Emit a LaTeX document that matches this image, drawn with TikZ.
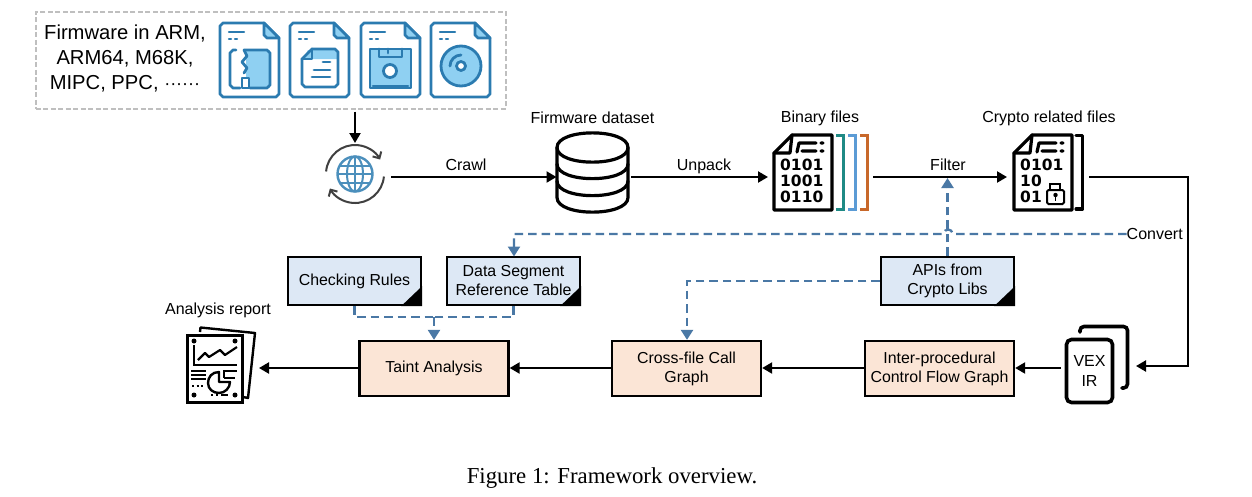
\documentclass[tikz,border=0pt]{standalone}
\usepackage{fontspec}
\setmainfont{Liberation Sans}
\newfontfamily\capfont{Liberation Serif}
\newfontfamily\digitfont{DejaVu Sans}
\usetikzlibrary{arrows.meta}
\definecolor{icondark}{HTML}{2B7BB0}
\definecolor{iconlight}{HTML}{8FD0F2}
\definecolor{dashblue}{HTML}{4A78A5}
\definecolor{boxblue}{HTML}{DDE8F5}
\definecolor{boxorange}{HTML}{FBE5D6}
\definecolor{brteal}{HTML}{1F8A85}
\definecolor{brblue}{HTML}{5B9BD5}
\definecolor{brorange}{HTML}{C8682A}
\tikzset{
  flow/.style={draw=black,line width=2.2pt,-{Triangle[length=10pt,width=11pt]}},
  dashflow/.style={draw=dashblue,line width=2.3pt,dash pattern=on 8.5pt off 5pt},
  dasharrow/.style={dashflow,-{Triangle[length=10pt,width=12pt,fill=dashblue]}},
  lab/.style={font=\fontsize{16}{19}\selectfont,inner sep=0pt,align=center},
  orangebox/.style={draw=black,line width=2.3pt,fill=boxorange,inner sep=0pt,align=center,
    minimum height=55pt,font=\fontsize{15.9}{19}\selectfont},
  bluebox/.style={draw=black,line width=2.3pt,fill=boxblue,inner sep=0pt,align=center,
    minimum width=133pt,minimum height=48pt,font=\fontsize{15.9}{19}\selectfont},
  foldmark/.style={fill=black},
  anchorbox/.style={inner sep=0pt,outer sep=0pt},
  ico/.style={line width=2.8pt,draw=icondark,line join=round,line cap=round},
  blk/.style={line width=3.2pt,draw=black,line join=round,line cap=round},
  digits/.style={font=\digitfont\bfseries\fontsize{15.5}{15.5}\selectfont,inner sep=0pt,anchor=west},
}
\newcommand{\fileshell}{%
  \filldraw[ico,fill=white] (3,0) -- (44,0) -- (59,15) -- (59,71) -- (56,74) -- (3,74) -- (0,71) -- (0,3) -- cycle;
  \filldraw[ico,fill=iconlight] (44,0) -- (59,15) -- (47,15) -- (44,12) -- cycle;
  \draw[ico,line width=2.2pt] (9,9) -- (24,9) (9,16) -- (11,16) (15,16) -- (17,16);
}
\newcommand{\binshell}{%
  \draw[blk] (18,0) -- (58,0) -- (58,75) -- (0,75) -- (0,18) -- cycle;
  \draw[blk] (0,18) -- (16,18) -- (18,0);
  \draw[blk] (42,8) -- (25,8) -- (23,17) (28,16) -- (42,16) (47,8) -- (49,8) (47,16) -- (49,16);
}
\newcommand{\foldcorner}[1]{\fill[foldmark] (#1.south east) -- ++(-21,0) -- ++(21,-20) -- cycle;}
\begin{document}
\begin{tikzpicture}[x=1pt,y=-1pt]
\useasboundingbox (0,0) rectangle (1252,496);
\fill[white] (0,0) rectangle (1252,496);

% top dashed frame
\node[draw=black!25,line width=1.5pt,dash pattern=on 5pt off 2.5pt,minimum width=470pt,minimum height=97pt,anchor=north west,inner sep=0pt] (frame) at (35,11) {};
\node[font=\fontsize{20.2}{25}\selectfont,align=center,inner sep=0pt] (fwtext) at (125,58) {Firmware in ARM,\\ARM64, M68K,\\MIPC, PPC, {\fontsize{18}{18}\selectfont ······}};

% archive icon
\begin{scope}[shift={(220,23)}]
\fileshell
\fill[iconlight] (26,27) rectangle (50,65);
\draw[ico] (16,27) -- (13,27) -- (10,30) -- (10,62) -- (13,65) -- (20,65)
           (24,27) -- (47,27) -- (50,30) -- (50,62) -- (47,65) -- (30,65);
\draw[ico] (24,27) -- (27,33) -- (22,39) -- (27,45) -- (24,50);
\filldraw[ico,fill=white] (22,55) rectangle (29,65);
\end{scope}
% document icon
\begin{scope}[shift={(290,23)}]
\fileshell
\fill[iconlight] (18,27) -- (46,27) -- (48,29) -- (48,36) -- (13,36) -- cycle;
\draw[ico] (22,26) -- (45,26) -- (48,29) -- (48,61) -- (45,64) -- (15,64) -- (12,61) -- (12,36) -- cycle;
\draw[ico] (12,36) -- (22,36) -- (22,26);
\draw[ico] (33,39) -- (40,39) (24,47) -- (40,47) (22,54) -- (40,54);
\end{scope}
% floppy icon
\begin{scope}[shift={(361,23)}]
\fileshell
\filldraw[ico,fill=iconlight] (9,26) -- (50,26) -- (50,65) -- (9,65) -- cycle;
\draw[ico] (18,26) -- (18,34) -- (41,34) -- (41,26);
\draw[ico] (27,26) -- (27,30);
\draw[ico] (12,63) -- (47,63);
\filldraw[ico,fill=white] (29,48) circle[radius=6.5];
\end{scope}
% disc icon
\begin{scope}[shift={(431,23)}]
\fileshell
\filldraw[ico,fill=iconlight] (30,43) circle[radius=20];
\filldraw[ico,fill=white] (30,43) circle[radius=4.5];
\draw[ico] (19,43) .. controls (19,37) and (24,32) .. (30,32);
\end{scope}

% globe
\node[anchorbox,minimum size=62pt,circle] (globe) at (355,174) {};
\begin{scope}[shift={(355,174)},y=1pt]
\draw[line width=2pt,black!75,-{Straight Barb[length=5pt,width=10pt]}] (175:29) arc[start angle=175,end angle=30,radius=29];
\draw[line width=2pt,black!75,-{Straight Barb[length=5pt,width=10pt]}] (355:29) arc[start angle=355,end angle=210,radius=29];
\draw[line width=2.4pt,icondark!85] (0,0) circle[radius=17.5];
\draw[line width=2pt,icondark!85] (0,0) ellipse[x radius=8,y radius=17.5];
\draw[line width=2pt,icondark!85] (0,-17.5) -- (0,17.5) (-17.5,0) -- (17.5,0) (-15,8.5) -- (15,8.5) (-15,-8.5) -- (15,-8.5);
\end{scope}

% database
\node[anchorbox,minimum width=72pt,minimum height=80pt] (db) at (592.5,172.5) {};
\filldraw[blk,fill=white] (557,147.5) .. controls (557,128) and (628,128) .. (628,147.5) -- (628,197.5) .. controls (628,217) and (557,217) .. (557,197.5) -- cycle;
\draw[blk] (557,147.5) .. controls (557,167) and (628,167) .. (628,147.5)
           (557,164) .. controls (557,183.5) and (628,183.5) .. (628,164)
           (557,181) .. controls (557,200.5) and (628,200.5) .. (628,181);

% binary files
\node[anchorbox,minimum width=96pt,minimum height=76pt,anchor=north west] (bin) at (774,135) {};
\begin{scope}[shift={(774,135)}]
\binshell
\node[digits] at (6,30) {0101};
\node[digits] at (6,46) {1001};
\node[digits] at (6,62) {0110};
\end{scope}
\draw[line width=2.6pt,draw=brteal] (836,135.5) -- (843.5,135.5) -- (843.5,209.5) -- (836,209.5);
\draw[line width=2.6pt,draw=brblue] (848,135.5) -- (855.5,135.5) -- (855.5,209.5) -- (848,209.5);
\draw[line width=2.6pt,draw=brorange] (860,135.5) -- (867.5,135.5) -- (867.5,209.5) -- (860,209.5);

% crypto files
\node[anchorbox,minimum width=70pt,minimum height=76pt,anchor=north west] (cry) at (1014,135) {};
\begin{scope}[shift={(1014,135)}]
\binshell
\node[digits] at (6,30) {0101};
\node[digits] at (6,46) {10};
\node[digits] at (6,62) {01};
\draw[line width=2pt,rounded corners=1.5pt] (33,55) rectangle (50,69);
\draw[line width=2pt] (36,54) -- (36,49) -- (46,49) -- (46,54);
\fill (41.5,60) circle[radius=2.2];
\draw[line width=1.6pt] (41.5,60) -- (41.5,66);
\end{scope}
\draw[blk] (1076,135.5) -- (1082.5,135.5) -- (1082.5,209) -- (1076,209);

% VEX IR
\node[draw=black,line width=3.6pt,rounded corners=5pt,minimum width=46pt,minimum height=63pt,
  inner sep=0pt,align=center,font=\fontsize{16}{20}\selectfont] (vex) at (1089.5,371) {VEX\\IR};
\draw[line width=3.6pt,line cap=round,rounded corners=4pt] (1080,332) -- (1080,326.5) -- (1127.5,326.5) -- (1127.5,388) -- (1122,388);
\coordinate (vexin) at (1136,366);

% report icon
\node[anchorbox,minimum width=68pt,minimum height=75pt,anchor=north west] (report) at (187,327) {};
\begin{scope}[shift={(187,335)}]
\draw[line width=2.4pt,line join=round] (13,-3) -- (13.5,-7.5) -- (68,-2) -- (61,63) -- (56,62);
\draw[line width=3pt] (0,0) rectangle (55,67);
\fill (7,6) circle[radius=2.5] (48,6) circle[radius=2.5] (7,60) circle[radius=2.5] (48,60) circle[radius=2.5];
\draw[line width=2.2pt] (7,10) -- (7,30) -- (50,30);
\draw[line width=2.2pt,line join=round] (11,25) -- (18,18) -- (22,22) -- (33,15) -- (38,20) -- (50,12);
\draw[line width=2.2pt] (4,36) -- (19,36) (4,40) -- (19,40) (4,44) -- (19,44);
\draw[line width=2.2pt,dash pattern=on 2pt off 2.5pt] (5,51) -- (17,51);
\draw[line width=2.2pt] (24,60) -- (26,60) (29,60) -- (31,60) (34,60) -- (41,60);
\draw[line width=2.4pt,line join=round] (32,37) .. controls (25,37) and (21,42) .. (21,48) .. controls (21,54) and (26,58) .. (32,58) .. controls (38,58) and (43,53) .. (43,47) -- (32,47) -- cycle;
\draw[line width=2.2pt] (37,43) -- (37,36) -- (50,36) (37,43) -- (48,43);
\end{scope}

% boxes
\node[orangebox,minimum width=149pt] (taint) at (434,368.5) {Taint Analysis};
\node[orangebox,minimum width=149pt] (cfcg) at (686.5,368.5) {Cross-file Call\\Graph};
\node[orangebox,minimum width=149pt] (icfg) at (939.5,368.5) {Inter-procedural\\Control Flow Graph};
\node[bluebox] (rules) at (354.5,281) {Checking Rules};
\node[bluebox] (dsrt) at (513.5,281) {Data Segment\\Reference Table};
\node[bluebox] (apis) at (947.5,281) {APIs from\\Crypto Libs};
\foldcorner{rules}
\foldcorner{dsrt}
\foldcorner{apis}

% labels
\node[lab] (l1) at (466,165) {Crawl};
\node[lab] (l2) at (704,166) {Unpack};
\node[lab] (l3) at (948,165) {Filter};
\node[lab] (l4) at (592.5,118) {Firmware dataset};
\node[lab] (l5) at (820,118) {Binary files};
\node[lab] (l6) at (1049,118) {Crypto related files};
\node[lab] (l7) at (218,310) {Analysis report};
\node[lab,anchor=west] (conv) at (1126.5,233.5) {Convert};
\node[font=\capfont\fontsize{22.8}{26}\selectfont,inner sep=0pt] (cap) at (612,478) {Figure 1: Framework overview.};

% solid connectors
\draw[flow] (frame.south -| globe.north) ++(0,2) -- (globe.north);
\draw[flow] (globe.east) ++(5,3) -- (db.west |- 0,177);
\draw[flow] (631,177) -- (768,177);
\coordinate (fa) at (873,177);
\coordinate (fb) at (1007,177);
\draw[flow] (fa) -- (fb);
\coordinate (fc) at (1089,177);
\coordinate (fd) at (1188,177);
\coordinate (fe) at (1188,366);
\draw[flow,line join=miter] (fc) -- (fd) -- (fe) -- (vexin);
\draw[flow] (vex.west) ++(-4,-3) -- (icfg.east |- 0,368);
\draw[flow] (icfg.west |- 0,368) -- (cfcg.east |- 0,368);
\draw[flow] (cfcg.west |- 0,368) -- (taint.east |- 0,368);
\coordinate (repin) at (259,368);
\draw[flow] (taint.west |- 0,368) -- (repin);

% dashed connectors
\draw[dasharrow] (conv.west |- 0,234) -- (953,234) .. controls (951.5,228) and (945,228) .. (943,234) -- (514,234) -- (514,256.5);
\draw[dasharrow] (apis.north) -- (947.5,178);
\draw[dasharrow] (apis.west) -- (687,281) -- (cfcg.north -| 687,0);
\coordinate (merge) at (434,317);
\draw[dashflow] (rules.south) -- (354.5,317) -- (merge);
\draw[dashflow] (dsrt.south) -- (513.5,317) -- (merge);
\draw[dasharrow] (merge) -- (taint.north);
\end{tikzpicture}
\end{document}
